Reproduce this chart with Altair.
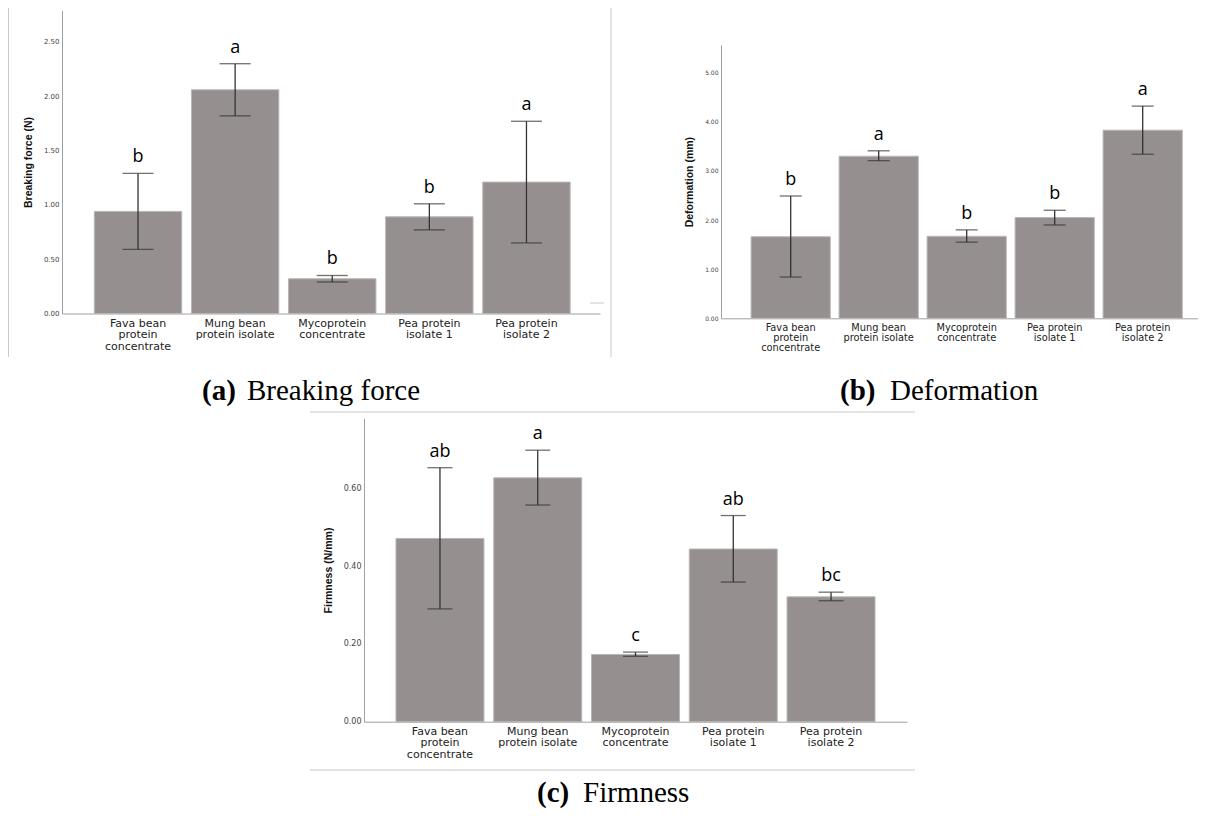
import altair as alt
import pandas as pd

categories = ["Fava bean protein concentrate", "Mung bean protein isolate",
              "Mycoprotein concentrate", "Pea protein isolate 1", "Pea protein isolate 2"]
label_lines = [["Fava bean", "protein", "concentrate"], ["Mung bean", "protein isolate"],
               ["Mycoprotein", "concentrate"], ["Pea protein", "isolate 1"], ["Pea protein", "isolate 2"]]

bf_mean = [0.94, 2.06, 0.32, 0.89, 1.21]
bf_lo = [0.59, 1.82, 0.29, 0.77, 0.65]
bf_hi = [1.29, 2.30, 0.35, 1.01, 1.77]
bf_letters = ["b", "a", "b", "b", "a"]

df_mean = [1.66, 3.30, 1.67, 2.05, 3.83]
df_lo = [0.84, 3.21, 1.55, 1.90, 3.34]
df_hi = [2.49, 3.41, 1.80, 2.20, 4.32]
df_letters = ["b", "a", "b", "b", "a"]

fm_mean = [0.471, 0.627, 0.173, 0.444, 0.321]
fm_lo = [0.290, 0.557, 0.168, 0.359, 0.311]
fm_hi = [0.653, 0.698, 0.179, 0.530, 0.333]
fm_letters = ["ab", "a", "c", "ab", "bc"]

W, H = 1190, 800
BAR = "#968f8f"
ERR = "#333333"
AXIS = "#a0a0a0"
FRAME = "#c8c8c8"

# multi-line labels expression
expr = "datum.label"
for cat, lines in reversed(list(zip(categories, label_lines))):
    arr = "[" + ",".join("'" + l + "'" for l in lines) + "]"
    expr = f"datum.label == '{cat}' ? {arr} : ({expr})"

one = alt.Data(values=[{"k": 1}])


def hrule(x1, x2, y, color=FRAME, w=1):
    return alt.Chart(one).mark_rule(color=color, strokeWidth=w).encode(
        x=alt.value(x1), x2=alt.value(x2), y=alt.value(y))


def vrule(x, y1, y2, color=FRAME, w=1):
    return alt.Chart(one).mark_rule(color=color, strokeWidth=w).encode(
        x=alt.value(x), y=alt.value(y1), y2=alt.value(y2))


def caption(tag, word, x1, x2, y, size=29):
    t1 = alt.Chart(one).mark_text(text=tag, font="Liberation Serif", fontWeight="bold",
                                  fontSize=size, align="left", baseline="alphabetic",
                                  color="#000").encode(x=alt.value(x1), y=alt.value(y))
    t2 = alt.Chart(one).mark_text(text=word, font="Liberation Serif", fontSize=size,
                                  align="left", baseline="alphabetic",
                                  color="#000").encode(x=alt.value(x2), y=alt.value(y))
    return [t1, t2]


def panel(mean, lo, hi, letters, xrange, ymax, yrange, ytitle, ticks, cap, po, al,
          xlab_size, xlab_lh, ylab_size):
    d = pd.DataFrame({"cat": categories, "mean": mean, "lo": lo, "hi": hi, "letter": letters})
    base = alt.Chart(d)
    xscale = alt.Scale(paddingInner=0.1, paddingOuter=po, align=al, range=xrange)
    xaxis = alt.Axis(title=None, labelAngle=0, labelExpr=expr, ticks=False, orient="bottom",
                     domainColor=AXIS, labelPadding=4, offset=yrange[0] - H,
                     labelFont="DejaVu Sans", labelFontSize=xlab_size, labelColor="#222",
                     labelLineHeight=xlab_lh)
    yscale = alt.Scale(domain=[0, ymax], nice=False, zero=True, range=yrange)
    yaxis = alt.Axis(title=ytitle, values=ticks, format=".2f", grid=False, ticks=False,
                     orient="left", domainColor=AXIS, labelPadding=3, titlePadding=10,
                     offset=-xrange[0], labelFont="DejaVu Sans", labelFontSize=ylab_size,
                     labelColor="#444", titleFont="Liberation Sans", titleFontSize=10.5,
                     titleFontWeight="bold", titleColor="#111")

    def X():
        return alt.X("cat:N", sort=categories, scale=xscale, axis=xaxis)

    def Y(f):
        return alt.Y(f, scale=yscale, axis=yaxis)

    bars = base.mark_bar(color=BAR, stroke="#bbb6b6", strokeWidth=1).encode(
        x=X(), y=Y("mean:Q"))
    rule = base.mark_rule(color=ERR, strokeWidth=1.3).encode(x=X(), y=Y("lo:Q"), y2="hi:Q")
    cap_lo = base.mark_tick(color=ERR, thickness=1.3, size=cap, orient="horizontal").encode(
        x=X(), y=Y("lo:Q"))
    cap_hi = base.mark_tick(color=ERR, thickness=1.3, size=cap, orient="horizontal").encode(
        x=X(), y=Y("hi:Q"))
    txt = base.mark_text(font="Open Sans", fontSize=18, dy=-11, baseline="alphabetic",
                         color="#000").encode(x=X(), y=Y("hi:Q"), text="letter:N")
    return alt.layer(bars, rule, cap_lo, cap_hi, txt)


pa = panel(bf_mean, bf_lo, bf_hi, bf_letters, [54, 592], 2.79, [305.5, 2.5],
           "Breaking force (N)", [0, 0.5, 1.0, 1.5, 2.0, 2.5], 31, 0.32, 0.52, 11, 11.3, 7)
pb = panel(df_mean, df_lo, df_hi, df_letters, [713, 1197], 5.564, [310.3, 37],
           "Deformation (mm)", [0, 1, 2, 3, 4, 5], 22, 0.30, 0.57, 9.8, 10, 6)
pc = panel(fm_mean, fm_lo, fm_hi, fm_letters, [356, 899], 0.78, [713.7, 410.3],
           "Firmness (N/mm)", [0, 0.2, 0.4, 0.6], 25, 0.327, 0.5, 11, 11.3, 8)

decor = [vrule(0.5, 0, 349), vrule(603, 0, 349), hrule(582, 596, 295),
         hrule(302, 907, 404), hrule(302, 907, 762)]
decor += caption("(a)", "Breaking force", 194, 239, 392)
decor += caption("(b)", "Deformation", 832, 882, 392)
decor += caption("(c)", "Firmness", 529, 575, 794)

chart = alt.layer(pa, pb, pc, *decor).resolve_scale(
    x="independent", y="independent"
).resolve_axis(
    x="independent", y="independent"
).properties(
    width=W, height=H, padding=0, autosize=alt.AutoSizeParams(type="none")
).configure_view(strokeWidth=0)

chart.save("out.html", embed_options={"renderer": "svg", "actions": False})
